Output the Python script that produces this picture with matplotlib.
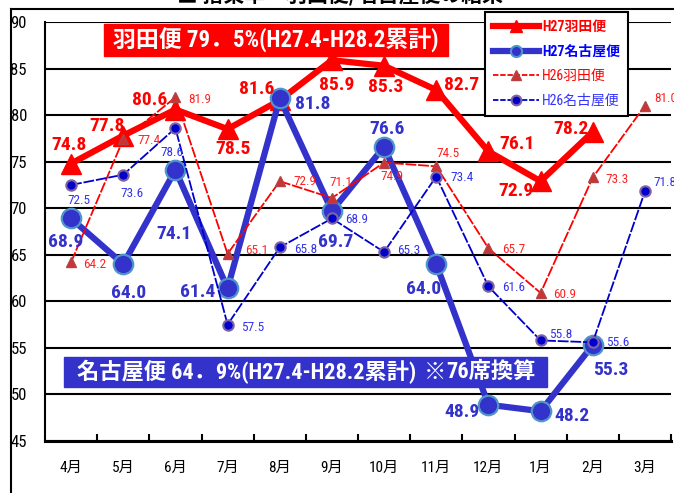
import matplotlib

matplotlib.use("Agg")
import matplotlib.pyplot as plt  # noqa: E402
from matplotlib import font_manager  # noqa: E402
from matplotlib.lines import Line2D  # noqa: E402
from matplotlib.patches import Rectangle  # noqa: E402

# pick the narrowest latin face that is installed, CJK glyphs fall back to Noto
_installed = {f.name for f in font_manager.fontManager.ttflist}
_narrow = next((n for n in ("Liberation Sans Narrow", "Roboto Condensed", "Arial Narrow", "Roboto")
                if n in _installed), "DejaVu Sans")
NARROW = [_narrow, "Noto Sans CJK JP", "DejaVu Sans"]
CJK = ["Noto Sans CJK JP", "DejaVu Sans"]

months = ["4月", "5月", "6月", "7月", "8月", "9月", "10月", "11月", "12月", "1月", "2月", "3月"]
h27_haneda = [74.8, 77.8, 80.6, 78.5, 81.6, 85.9, 85.3, 82.7, 76.1, 72.9, 78.2]
h27_nagoya = [68.9, 64.0, 74.1, 61.4, 81.8, 69.7, 76.6, 64.0, 48.9, 48.2, 55.3]
h26_haneda = [64.2, 77.4, 81.9, 65.1, 72.9, 71.1, 74.9, 74.5, 65.7, 60.9, 73.3, 81.0]
h26_nagoya = [72.5, 73.6, 78.6, 57.5, 65.8, 68.9, 65.3, 73.4, 61.6, 55.8, 55.6, 71.8]
series_names = ["H27羽田便", "H27名古屋便", "H26羽田便", "H26名古屋便"]
haneda_note = "羽田便 79．5%(H27.4-H28.2累計)"
nagoya_note = ["名古屋便 64．9%(H27.4-H28.2累計)", "※", "76席換算"]

# label offsets in pixels (dx, dy), hand placed like the original
off_h27_haneda = [(-2, 19), (-16, 10), (-26, 10), (5, -20), (-23, 11), (5, -25),
                  (2, -21), (25, 5), (29, 7), (-25, -10), (-22, 3)]
off_h27_nagoya = [(-5, -24), (5, -29), (-1, -64), (-30, -4), (33, -6), (4, -31),
                  (3, 18), (-13, -25), (-26, -7), (31, -5), (18, -25)]
off_h26_haneda = [(12, -2), (14, -1), (13, -2), (18, 3), (14, 0), (-3, 15),
                  (-4, -14), (0, 13), (14, -1), (13, -2), (13, -2), (9, 7)]
off_h26_nagoya = [(-4, -16), (-3, -19), (-15, -24), (13, -3), (14, -2), (13, -1),
                  (13, 1), (14, -1), (14, -1), (8, 6), (13, 0), (8, 9)]

RED = "#FF0000"
NAVY = "#3333CC"
W, H = 674, 493


def fx(px):
    return px / W


def fy(py):
    return 1 - py / H


fig = plt.figure(figsize=(6.74, 4.93), dpi=100)
ax = fig.add_axes([fx(45), fy(441), fx(671) - fx(45), fy(22) - fy(441)])

x27 = range(len(h27_haneda))
x26 = range(len(h26_haneda))
ax.plot(x27, h27_haneda, color=RED, lw=4.5, marker="^", ms=14, mfc=RED, mec=RED, zorder=3)
ax.plot(x27, h27_nagoya, color=NAVY, lw=4.5, marker="o", ms=14, mfc=NAVY, mec="#4F95C8",
        mew=1.6, zorder=3.2)
ax.plot(x26, h26_haneda, color=RED, lw=1.3, ls=(0, (6, 1)), marker="^", ms=7.5,
        mfc="#CC3333", mec="#B04545", zorder=3.4)
ax.plot(x26, h26_nagoya, color="#0000CC", lw=1.3, ls=(0, (6, 1)), marker="o", ms=7.5,
        mfc="#0000CC", mec="#8064A2", mew=1.5, zorder=3.6)

for i, v in enumerate(h27_haneda):
    ax.annotate(f"{v:.1f}", (i, v), xytext=off_h27_haneda[i], textcoords="offset pixels",
                ha="center", va="center", color=RED, fontsize=14, fontweight="bold",
                family=NARROW, zorder=6)
for i, v in enumerate(h27_nagoya):
    ax.annotate(f"{v:.1f}", (i, v), xytext=off_h27_nagoya[i], textcoords="offset pixels",
                ha="center", va="center", color=NAVY, fontsize=14, fontweight="bold",
                family=NARROW, zorder=6)
for i, v in enumerate(h26_haneda):
    ax.annotate(f"{v:.1f}", (i, v), xytext=off_h26_haneda[i], textcoords="offset pixels",
                ha="left", va="center", color="#FF2222", fontsize=9.5, family=NARROW,
                zorder=6, annotation_clip=False)
for i, v in enumerate(h26_nagoya):
    ax.annotate(f"{v:.1f}", (i, v), xytext=off_h26_nagoya[i], textcoords="offset pixels",
                ha="left", va="center", color="#3333EE", fontsize=9.5, family=NARROW,
                zorder=6, annotation_clip=False)

ax.set_xlim(-0.5, len(months) - 0.5)
ax.set_ylim(45, 90)
ax.set_yticks(range(45, 91, 5))
ax.grid(axis="y", color="black", lw=1.5)
ax.set_axisbelow(True)
ax.set_xticks(range(len(months)), months, family=NARROW, fontsize=11)
ax.set_xticks([i + 0.5 for i in range(len(months))], minor=True)
ax.tick_params(axis="x", which="major", length=0, pad=14)
ax.tick_params(axis="x", which="minor", direction="in", length=5, width=1.5)
ax.tick_params(axis="y", length=0, pad=13, labelsize=12)
for lab in ax.get_yticklabels():
    lab.set_family(NARROW)
for side in ("top", "right"):
    ax.spines[side].set_visible(False)
ax.spines["left"].set_linewidth(1.5)
ax.spines["bottom"].set_linewidth(2.2)

# outer frame of the slide
fig.add_artist(Line2D([fx(11), fx(11)], [fy(9), 0], color="black", lw=1.5))
fig.add_artist(Line2D([fx(11), 1], [fy(9), fy(9)], color="black", lw=1.5))
fig.text(fx(340), fy(-5), "■ 搭乗率　羽田便/名古屋便の結果", fontsize=15, ha="center",
         va="center", family=CJK, fontweight="bold")

# summary boxes
fig.add_artist(Rectangle((fx(104), fy(56)), fx(448) - fx(104), fy(24) - fy(56),
                         transform=fig.transFigure, color=RED, zorder=5))
fig.text(fx(276), fy(40), haneda_note, color="white", fontsize=16.5, fontweight="bold",
         ha="center", va="center", family=NARROW, zorder=6)
fig.add_artist(Rectangle((fx(64), fy(387)), fx(547) - fx(64), fy(357) - fy(387),
                         transform=fig.transFigure, color=NAVY, zorder=5))
note_style = dict(color="white", fontsize=16, fontweight="bold", va="center", zorder=6)
fig.text(fx(416), fy(372), nagoya_note[0], ha="right", family=NARROW, **note_style)
fig.text(fx(435), fy(372), nagoya_note[1], ha="center", family=CJK, **note_style)
fig.text(fx(446), fy(372), nagoya_note[2], ha="left", family=NARROW, **note_style)

handles = [
    Line2D([], [], color=RED, lw=4.5, marker="^", ms=8, mfc=RED, mec=RED),
    Line2D([], [], color=NAVY, lw=4.5, marker="o", ms=8, mfc=NAVY, mec="#4F95C8", mew=1.5),
    Line2D([], [], color=RED, lw=1.3, ls=(0, (3, 1)), marker="^", ms=7, mfc="#CC3333",
           mec="#B04545"),
    Line2D([], [], color="#0000CC", lw=1.3, ls=(0, (3, 1)), marker="o", ms=7, mfc="#0000CC",
           mec="#8064A2", mew=1.5),
]
leg = fig.legend(handles, series_names, loc="upper left", bbox_to_anchor=(fx(485), fy(12)),
                 bbox_transform=fig.transFigure, borderaxespad=0, fancybox=False,
                 framealpha=1, edgecolor="black", handlelength=3.3, handletextpad=0.2,
                 labelspacing=0.75, borderpad=0.6, prop={"family": NARROW, "size": 10})
leg.get_frame().set_linewidth(1.5)
leg.set_zorder(7)
for text, color, weight in zip(leg.get_texts(), [RED, "#0000FF", RED, "#3333FF"],
                               ["bold", "bold", "normal", "normal"]):
    text.set_color(color)
    text.set_fontweight(weight)

fig.savefig("out.png", dpi=100, facecolor="white")
